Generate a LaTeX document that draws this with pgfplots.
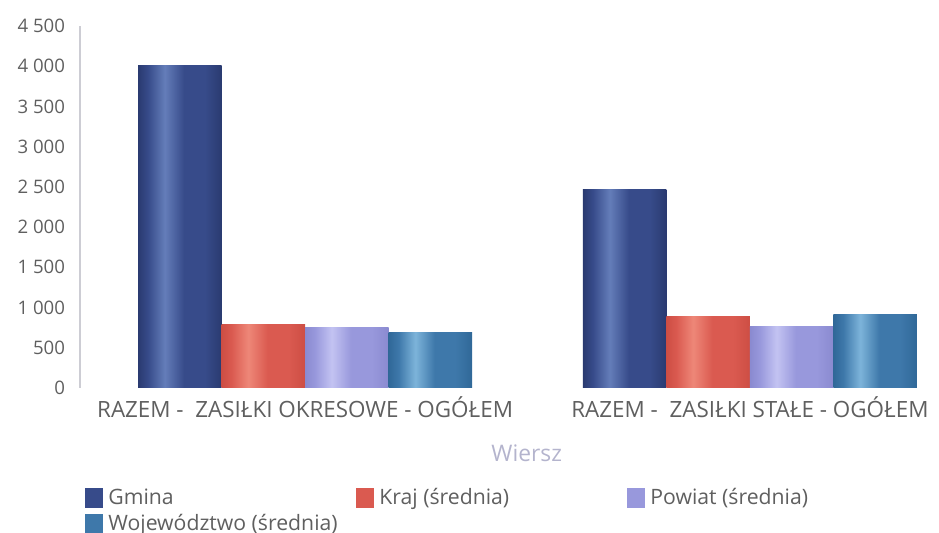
\documentclass[border=0pt]{standalone}
\usepackage{pgfplots}
\pgfplotsset{compat=1.18}
\usepackage{fontspec}
\setmainfont{Open Sans}
\definecolor{gA}{RGB}{42,58,112}
\definecolor{gB}{RGB}{100,125,185}
\definecolor{gC}{RGB}{55,75,138}
\definecolor{kA}{RGB}{205,78,68}
\definecolor{kB}{RGB}{238,135,120}
\definecolor{kC}{RGB}{218,90,80}
\definecolor{pA}{RGB}{138,138,208}
\definecolor{pB}{RGB}{195,195,242}
\definecolor{pC}{RGB}{152,152,220}
\definecolor{wA}{RGB}{48,104,152}
\definecolor{wB}{RGB}{125,180,218}
\definecolor{wC}{RGB}{62,120,170}
\pgfdeclarehorizontalshading{gsh}{100bp}{color(0bp)=(gA); color(25bp)=(gA); color(31bp)=(gC); color(41bp)=(gB); color(52.5bp)=(gC); color(65bp)=(gC); color(75bp)=(gA); color(100bp)=(gA)}
\pgfdeclarehorizontalshading{ksh}{100bp}{color(0bp)=(kA); color(25bp)=(kA); color(31bp)=(kC); color(41bp)=(kB); color(52.5bp)=(kC); color(65bp)=(kC); color(75bp)=(kA); color(100bp)=(kA)}
\pgfdeclarehorizontalshading{psh}{100bp}{color(0bp)=(pA); color(25bp)=(pA); color(31bp)=(pC); color(41bp)=(pB); color(52.5bp)=(pC); color(65bp)=(pC); color(75bp)=(pA); color(100bp)=(pA)}
\pgfdeclarehorizontalshading{wsh}{100bp}{color(0bp)=(wA); color(25bp)=(wA); color(31bp)=(wC); color(41bp)=(wB); color(52.5bp)=(wC); color(65bp)=(wC); color(75bp)=(wA); color(100bp)=(wA)}
\definecolor{txt}{RGB}{95,95,95}
\begin{document}
\begin{tikzpicture}
\begin{axis}[
  scale only axis,
  width=429.5pt, height=181pt,
  xmin=-0.506, xmax=1.425,
  ymin=0, ymax=4500,
  ybar, bar width=41.75pt,
  xtick={0,1},
  xticklabels={RAZEM -\ \ ZASIŁKI OKRESOWE - OGÓŁEM, RAZEM -\ \ ZASIŁKI STAŁE - OGÓŁEM},
  ytick={0,500,...,4500},
  major tick length=0pt,
  axis x line*=bottom, axis y line*=left,
  x axis line style={draw=none},
  y axis line style={draw={rgb,255:red,205;green,205;blue,212}, line width=0.6pt},
  /pgf/number format/assume math mode=true,
  /pgf/number format/1000 sep={\ },
  yticklabel style={font=\fontsize{9.3}{11}\selectfont, text=txt, xshift=-4pt},
  xticklabel style={font=\fontsize{11.2}{13}\selectfont, text=txt, yshift=-1pt},
  xlabel={Wiersz},
  xlabel style={at={(axis description cs:0.52,0)}, anchor=center, yshift=-32.5pt, font=\fontsize{11.4}{13}\selectfont, text={rgb,255:red,180;green,180;blue,205}},
  legend columns=3,
  legend cell align=left,
  legend style={at={(axis description cs:0.0058,-0.266)}, anchor=north west, draw=none, fill=none,
    font=\fontsize{10.6}{12}\selectfont, text=txt, inner sep=0pt, row sep=-1pt,
    /tikz/every odd column/.append style={column sep=0.5pt},
    /tikz/every even column/.append style={column sep=0pt}},
  legend image code/.code={\fill[#1] (0pt,-5pt) rectangle (9pt,5pt);},
  clip=false,
]
\addlegendimage{fill=gC, draw=none}
\addlegendentry{\makebox[122pt][l]{Gmina}}
\addlegendimage{fill=kC, draw=none}
\addlegendentry{\makebox[122pt][l]{Kraj (średnia)}}
\addlegendimage{fill=pC, draw=none}
\addlegendentry{Powiat (średnia)}
\addlegendimage{fill=wC, draw=none}
\addlegendentry{Województwo (średnia)}
% Gmina
\addplot[draw=none, shading=gsh, bar shift=-62.625pt, forget plot] coordinates {(0,4010)};
\addplot[draw=none, shading=gsh, bar shift=-62.625pt, forget plot] coordinates {(1,2463)};
% Kraj
\addplot[draw=none, shading=ksh, bar shift=-20.875pt, forget plot] coordinates {(0,792)};
\addplot[draw=none, shading=ksh, bar shift=-20.875pt, forget plot] coordinates {(1,891)};
% Powiat
\addplot[draw=none, shading=psh, bar shift=20.875pt, forget plot] coordinates {(0,755)};
\addplot[draw=none, shading=psh, bar shift=20.875pt, forget plot] coordinates {(1,767)};
% Wojewodztwo
\addplot[draw=none, shading=wsh, bar shift=62.625pt, forget plot] coordinates {(0,693)};
\addplot[draw=none, shading=wsh, bar shift=62.625pt, forget plot] coordinates {(1,916)};
\end{axis}
\pgfresetboundingbox
\path (-40pt,-72.5pt) rectangle (429.5pt,194pt);
\end{tikzpicture}
\end{document}
